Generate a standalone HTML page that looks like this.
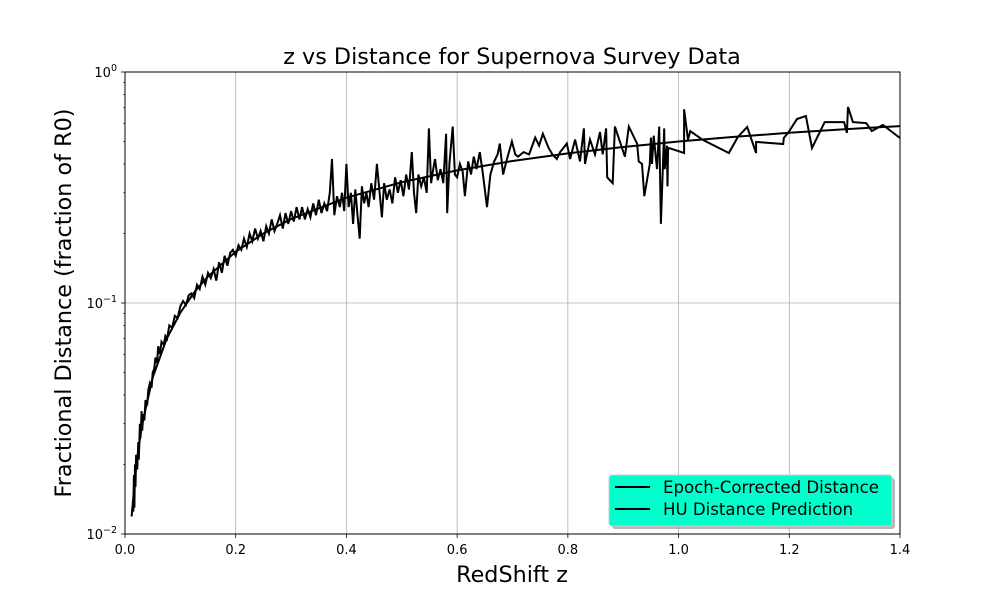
<!DOCTYPE html>
<html><head><meta charset="utf-8"><style>
html,body{margin:0;padding:0;background:#fff;width:1000px;height:600px;overflow:hidden}
svg text{font-family:"DejaVu Sans","Liberation Sans",sans-serif;fill:#000}
</style></head><body>
<svg id="chart" width="1000" height="600" xmlns="http://www.w3.org/2000/svg">
<rect x="0" y="0" width="1000" height="600" fill="#fff"/>
<g id="grid"></g>
<g id="series"></g>
<rect x="125" y="72" width="775" height="462" fill="none" stroke="#000" stroke-width="1"/>
<g id="axes"></g>
<text x="512" y="64" font-size="22.3" text-anchor="middle">z vs Distance for Supernova Survey Data</text>
<text x="512" y="582" font-size="22.3" text-anchor="middle">RedShift z</text>
<text transform="translate(71,303) rotate(-90)" font-size="22.3" text-anchor="middle">Fractional Distance (fraction of R0)</text>
<g>
<rect x="612" y="478" width="283" height="51" rx="3" fill="#888" opacity="0.6"/>
<rect x="609" y="475" width="283" height="51" rx="3" fill="#00ffcc" stroke="#ccc" stroke-width="1"/>
<line x1="615" y1="487" x2="650" y2="487" stroke="#000" stroke-width="2"/>
<text x="663" y="493" font-size="16.6">Epoch-Corrected Distance</text>
<line x1="615" y1="509" x2="650" y2="509" stroke="#000" stroke-width="2"/>
<text x="663" y="515" font-size="16.6">HU Distance Prediction</text>
</g>
</svg>
<script>
const xTicks=[0,0.2,0.4,0.6,0.8,1.0,1.2,1.4];
const xTickLabels=["0.0","0.2","0.4","0.6","0.8","1.0","1.2","1.4"];
const yTickExps=[0,-1,-2];
const obsZ=[0.015,0.016,0.017,0.018,0.019,0.02,0.022,0.024,0.025,0.027,0.028,0.03,0.031,0.033,0.035,0.037,0.04,0.042,0.045,0.048,0.05,0.053,0.055,0.058,0.06,0.063,0.066,0.07,0.073,0.076,0.08,0.085,0.09,0.095,0.1,0.105,0.11,0.115,0.12,0.125,0.13,0.135,0.14,0.145,0.15,0.155,0.16,0.165,0.17,0.175,0.18,0.185,0.19,0.195,0.2,0.205,0.21,0.215,0.22,0.225,0.23,0.235,0.24,0.245,0.25,0.255,0.26,0.265,0.27,0.275,0.28,0.285,0.29,0.295,0.3,0.305,0.31,0.315,
0.32,0.325,0.33,0.335,0.34,0.345,0.35,0.355,0.36,0.365,0.37,0.374,0.378,0.383,0.388,0.392,0.396,0.4,0.404,0.408,0.412,0.416,0.42,0.424,0.428,0.432,0.436,0.44,0.445,0.45,0.455,0.46,0.464,0.468,0.473,0.478,0.483,0.488,0.493,0.498,0.503,0.508,0.513,0.518,0.522,0.526,0.53,0.535,0.54,0.545,0.549,0.553,0.556,0.56,0.565,0.57,0.575,0.58,0.582,0.586,0.592,0.596,0.6,0.605,0.61,0.614,0.62,0.625,0.63,0.635,0.641,0.646,0.654,0.66,0.667,0.673,0.677,0.683,0.69,0.699,0.705,0.71,0.72,0.73,0.741,0.748,0.755,0.765,0.772,0.78,
0.786,0.798,0.804,0.813,0.822,0.829,0.831,0.840,0.849,0.858,0.863,0.869,0.871,0.881,0.885,0.903,0.910,0.925,0.928,0.934,0.938,0.948,0.950,0.952,0.955,0.961,0.965,0.968,0.974,0.975,0.979,0.980,0.981,
1.010,1.010,1.017,1.021,1.044,1.091,1.107,1.124,1.140,1.140,1.189,1.190,1.199,1.214,1.230,1.241,1.264,1.299,1.304,1.306,1.315,1.339,1.349,1.369,1.400];
const obsD=[0.0125,0.018,0.013,0.02,0.016,0.022,0.019,0.025,0.021,0.03,0.026,0.034,0.028,0.033,0.031,0.038,0.036,0.042,0.045,0.043,0.05,0.052,0.058,0.055,0.065,0.06,0.068,0.066,0.072,0.07,0.08,0.078,0.088,0.086,0.097,0.102,0.098,0.108,0.11,0.105,0.12,0.115,0.13,0.12,0.135,0.128,0.14,0.125,0.15,0.135,0.16,0.145,0.165,0.17,0.16,0.178,0.17,0.19,0.175,0.2,0.185,0.21,0.19,0.205,0.185,0.215,0.2,0.23,0.205,0.22,0.24,0.21,0.245,0.22,0.25,0.225,0.26,0.23,
0.26,0.23,0.255,0.235,0.27,0.24,0.28,0.245,0.27,0.25,0.3,0.42,0.24,0.29,0.26,0.3,0.25,0.4,0.26,0.3,0.22,0.31,0.24,0.19,0.32,0.27,0.3,0.26,0.33,0.28,0.4,0.3,0.235,0.33,0.28,0.31,0.27,0.35,0.3,0.34,0.29,0.36,0.31,0.45,0.3,0.245,0.36,0.32,0.35,0.3,0.57,0.33,0.37,0.42,0.34,0.38,0.33,0.54,0.245,0.4,0.58,0.36,0.35,0.4,0.37,0.29,0.41,0.36,0.43,0.38,0.45,0.37,0.26,0.36,0.41,0.44,0.49,0.36,0.42,0.5,0.44,0.43,0.45,0.44,0.52,0.48,0.54,0.47,0.44,0.42,
0.45,0.49,0.42,0.51,0.41,0.57,0.40,0.51,0.44,0.55,0.44,0.57,0.35,0.33,0.58,0.43,0.58,0.49,0.41,0.40,0.29,0.40,0.52,0.40,0.53,0.38,0.58,0.22,0.57,0.38,0.48,0.32,0.47,
0.446,0.69,0.508,0.555,0.508,0.446,0.523,0.578,0.446,0.498,0.488,0.518,0.55,0.626,0.645,0.469,0.607,0.607,0.545,0.706,0.607,0.601,0.555,0.59,0.518];
const modelZ=[0.012,0.02,0.03,0.05,0.075,0.1,0.125,0.15,0.2,0.25,0.3,0.4,0.5,0.6,0.7,0.8,0.9,1.0,1.1,1.2,1.3,1.4];
const modelD=[0.0119,0.0196,0.0291,0.0476,0.0698,0.0909,0.1111,0.1304,0.1667,0.2,0.2308,0.2857,0.3333,0.375,0.4118,0.4444,0.4737,0.5,0.5238,0.5455,0.5652,0.5833];

const L=125,R=900,T=72,B=534;
function xs(z){return L+(z-0)/(1.4-0)*(R-L);}
function ys(d){return T+(0-Math.log10(d))/2*(B-T);}
const NS='http://www.w3.org/2000/svg';
function mk(tag,attrs,parent){const e=document.createElementNS(NS,tag);for(const k in attrs)e.setAttribute(k,attrs[k]);parent.appendChild(e);return e;}
const grid=document.getElementById('grid'),axes=document.getElementById('axes'),series=document.getElementById('series');
xTicks.forEach((t,i)=>{
  const x=xs(t);
  if(i>0&&i<xTicks.length-1){const g=mk('line',{x1:x,x2:x,y1:T,y2:B,stroke:'#b0b0b0','stroke-width':0.8},grid);
  
  }
  const tk=mk('line',{x1:x,x2:x,y1:B,y2:B+4,stroke:'#000','stroke-width':0.8},axes);
  
  
  const tx=mk('text',{x:x,y:B+20,'font-size':13,'text-anchor':'middle'},axes);
  tx.textContent=xTickLabels[i];
  
  
});
yTickExps.forEach(e=>{
  const y=ys(Math.pow(10,e));
  if(e===-1){const g=mk('line',{x1:L,x2:R,y1:y,y2:y,stroke:'#b0b0b0','stroke-width':0.8},grid);
  
  }
  const tk=mk('line',{x1:L-4,x2:L,y1:y,y2:y,stroke:'#000','stroke-width':0.8},axes);
  
  
  const tx=mk('text',{x:L-8,y:y+5,'font-size':13,'text-anchor':'end'},axes);
  
  
  const a=mk('tspan',{},tx);a.textContent='10';
  const b=mk('tspan',{dy:-6,'font-size':9.5},tx);b.textContent=(e===0?'0':'\u2212'+(-e));
  if(e>-2){for(let m=2;m<=9;m++){const my=ys(m*Math.pow(10,e-1));
    const mt=mk('line',{x1:L-2,x2:L,y1:my,y2:my,stroke:'#000','stroke-width':0.6},axes);
    
    }}
});
function path(zs,ds){return zs.map((z,i)=>(i?'L':'M')+xs(z).toFixed(1)+','+ys(ds[i]).toFixed(1)).join('');}
const p1=mk('path',{d:path(obsZ,obsD),fill:'none',stroke:'#000','stroke-width':2,'stroke-linejoin':'miter'},series);


const p2=mk('path',{d:path(modelZ,modelD),fill:'none',stroke:'#000','stroke-width':2},series);


</script>
</body></html>
